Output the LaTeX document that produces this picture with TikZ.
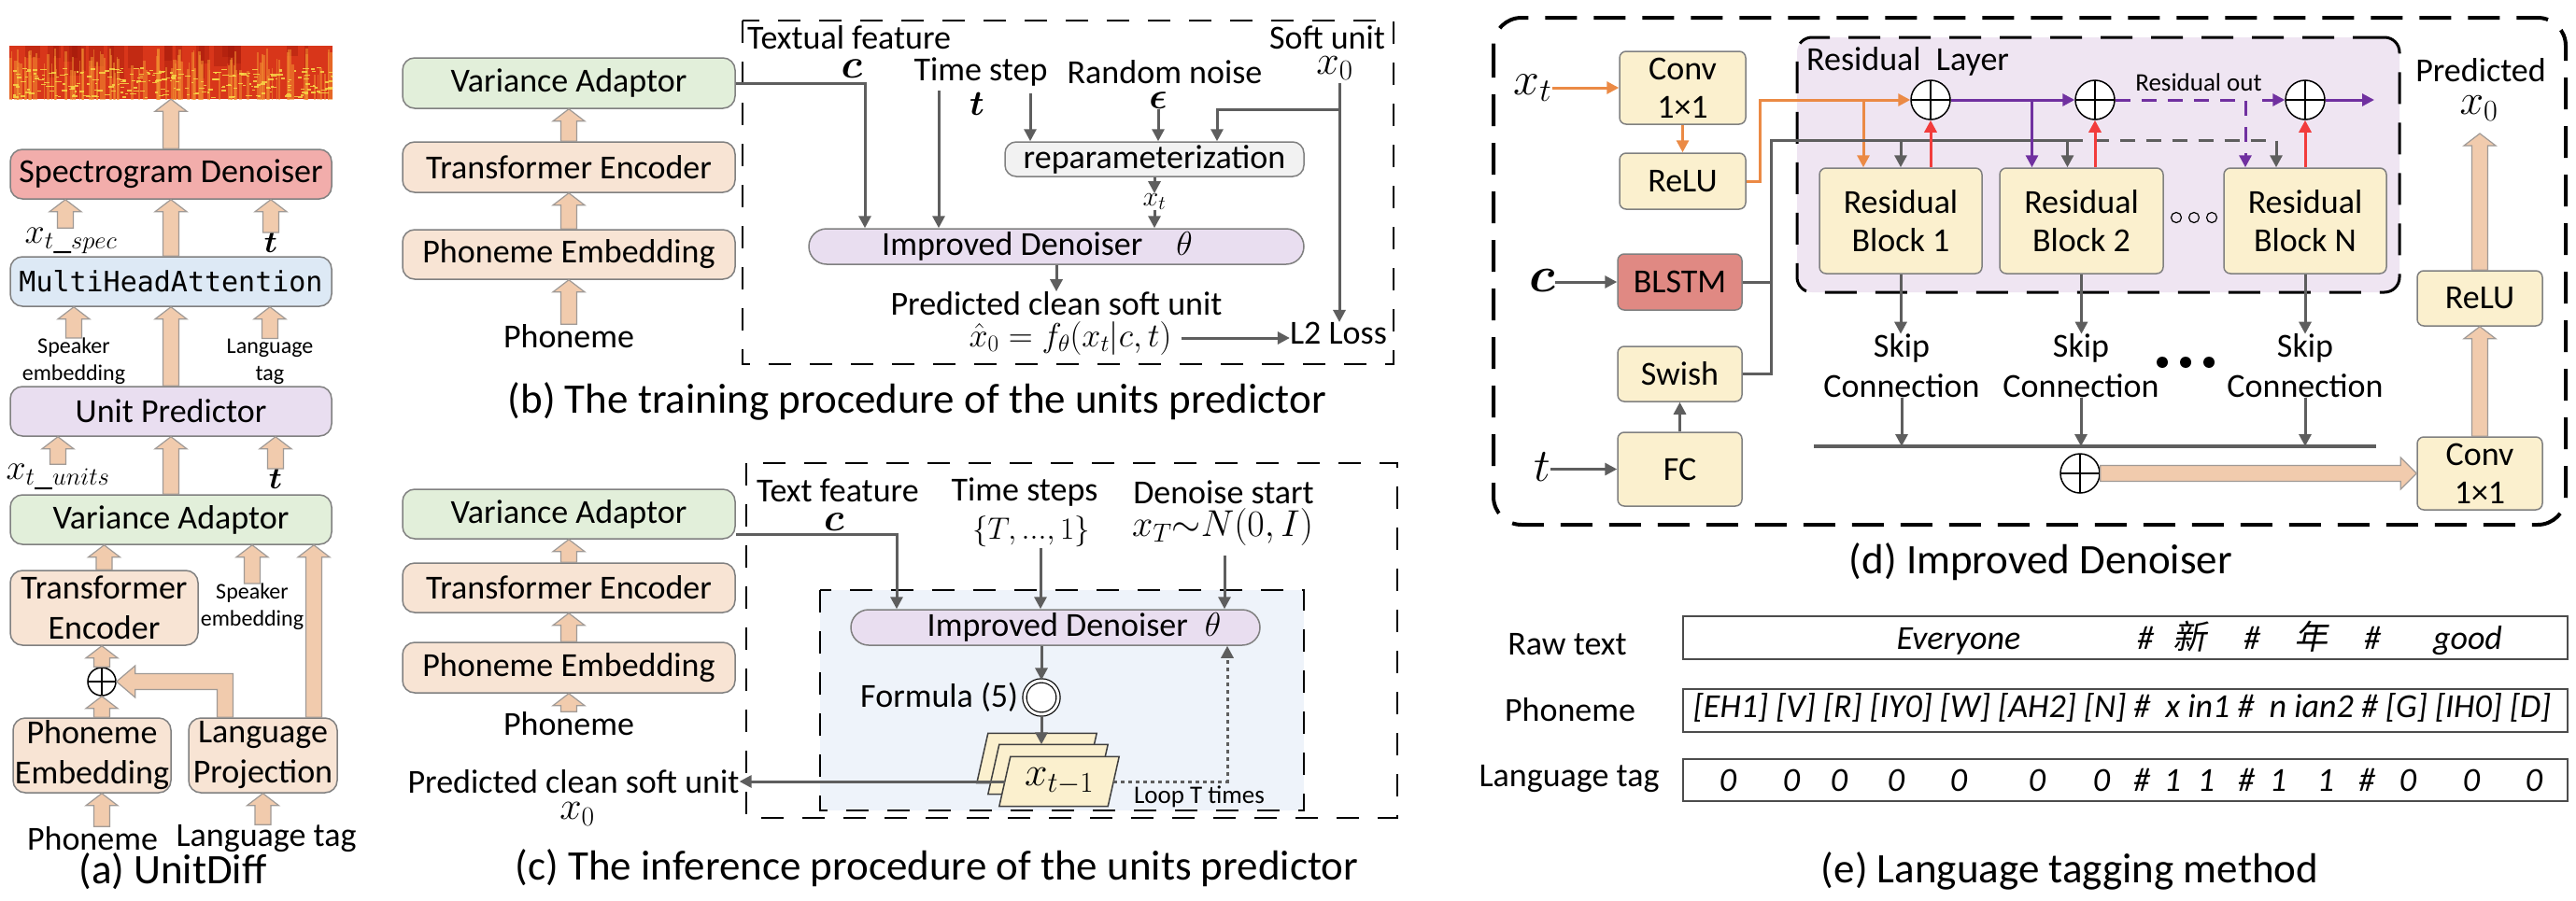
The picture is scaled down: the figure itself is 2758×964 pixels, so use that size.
\RequirePackage{fix-cm}
\documentclass[tikz,border=0pt]{standalone}
\usepackage{fontspec}
\usepackage{bm}
\setmainfont{Carlito}
\newfontfamily\monofont{DejaVu Sans Mono}
\newfontfamily\cjk[FakeSlant=0.2]{Noto Sans CJK SC}
\usetikzlibrary{arrows.meta,calc}
\definecolor{cline}{HTML}{808080}
\definecolor{cgreen}{HTML}{E2EFDA}
\definecolor{cpeach}{HTML}{F8E4D4}
\definecolor{cpink}{HTML}{F2ADAB}
\definecolor{cblue}{HTML}{DDE9F5}
\definecolor{clav}{HTML}{E9DEF0}
\definecolor{cgrey}{HTML}{F2F2F2}
\definecolor{cyel}{HTML}{FBF0CE}
\definecolor{cbl}{HTML}{E08983}
\definecolor{cfat}{HTML}{F1CBAD}
\definecolor{cfatl}{HTML}{A09A96}
\definecolor{cgarr}{HTML}{5E5E5E}
\definecolor{corange}{HTML}{EB8A45}
\definecolor{cpurple}{HTML}{7030A0}
\definecolor{cred}{HTML}{F23C3C}
\definecolor{crl}{HTML}{EFE5F2}
\definecolor{cinner}{HTML}{EEF3FA}
\definecolor{specred}{HTML}{D8361A}
\definecolor{specor}{HTML}{F29030}
\definecolor{specy}{HTML}{F8D848}
\definecolor{specdk}{HTML}{9A1408}
\tikzset{
  box/.style={draw=cline,line width=1.5pt,rounded corners=13pt},
  ybox/.style={box,fill=cyel,rounded corners=7pt,font=\fontsize{36}{41}\selectfont},
  ebox/.style={draw=black!70,line width=2pt},
  msize/.style={font=\fontsize{#1}{#1}\selectfont},
  small/.style={font=\fontsize{24}{29}\selectfont},
  note/.style={font=\fontsize{27}{30}\selectfont},
  captxt/.style={font=\fontsize{45}{50}\selectfont},
  fat/.style={draw=cfatl,fill=cfat,line width=1.2pt},
  fatup/.style={fat,to path={let \p1=(\tikztostart),\p2=(\tikztotarget) in
    (\x1-8.5pt,\y1)--(\x1-8.5pt,\y2-13pt)--(\x1-17pt,\y2-13pt)--(\x1,\y2)
    --(\x1+17pt,\y2-13pt)--(\x1+8.5pt,\y2-13pt)--(\x1+8.5pt,\y1)--cycle}},
  fatright/.style={fat,to path={let \p1=(\tikztostart),\p2=(\tikztotarget) in
    (\x1,\y1+8.5pt)--(\x2-17pt,\y1+8.5pt)--(\x2-17pt,\y1+17pt)--(\x2,\y1)
    --(\x2-17pt,\y1-17pt)--(\x2-17pt,\y1-8.5pt)--(\x1,\y1-8.5pt)--cycle}},
  arr/.style={line width=3pt,-{Triangle[width=13pt,length=13pt]}},
  garrow/.style={arr,draw=cgarr},
  oarrow/.style={arr,draw=corange},
  parrow/.style={arr,draw=cpurple},
  rarrow/.style={arr,draw=cred},
  gline/.style={draw=cgarr,line width=3pt},
  dashpat/.style={dash pattern=on 16pt off 12pt},
  dbox/.style={draw=black,line width=2.2pt,dash pattern=on 24pt off 20pt},
  oplus/.style={circle,draw=black,line width=1.5pt,fill=white,minimum size=42pt,
    path picture={\draw[line width=1.2pt] (path picture bounding box.north)--(path picture bounding box.south)
      (path picture bounding box.west)--(path picture bounding box.east);}},
  dcirc/.style={circle,draw=black,line width=1.2pt,double=white,double distance=3pt,fill=white,minimum size=36pt},
  stackp/.style={minimum width=128pt,minimum height=53pt},
  stackfill/.style={draw=black!75,line width=1.5pt,fill=cyel},
}
\begin{document}
\begin{tikzpicture}[x=1pt,y=-1pt,font=\fontsize{36}{43}\selectfont,
  every node/.style={inner sep=0pt,align=center}]
\useasboundingbox (0,0) rectangle (2758,964);
\fill[white] (0,0) rectangle (2758,964);
% (a)
\begin{scope}
  \clip (10,49) rectangle (356,106);
  \fill[specred] (10,49) rectangle (356,106);
  \pgfmathsetseed{11}
  \foreach \i in {1,...,22}{\pgfmathsetmacro{\sx}{10+346*rnd}
    \fill[specdk,opacity=0.35] (\sx,49) rectangle ++(4+14*rnd,10+40*rnd);}
  \foreach \i in {1,...,110}{\pgfmathsetmacro{\sx}{10+346*rnd}
    \fill[specor,opacity=0.55] (\sx,52+30*rnd) rectangle ++(1+2.5*rnd,60);}
  \foreach \i in {1,...,260}{\pgfmathsetmacro{\sx}{10+346*rnd}\pgfmathsetmacro{\sy}{72+32*rnd}
    \fill[specy,opacity=0.85] (\sx,\sy) rectangle ++(2+5*rnd,1.4);}
\end{scope}
\node[minimum width=346pt,minimum height=57pt] (spec) at (183,77.5) {};
\node[box,fill=cpink,minimum width=344pt,minimum height=53pt] (sd) at (183,186.5) {Spectrogram Denoiser};
\node[box,fill=cblue,minimum width=344pt,minimum height=53pt,font=\fontsize{30}{36}\monofont] (mha) at (183,301.5) {MultiHeadAttention};
\node[box,fill=clav,minimum width=344pt,minimum height=53pt] (up) at (183,440.5) {Unit Predictor};
\node[box,fill=cgreen,minimum width=344pt,minimum height=53pt] (vaa) at (183,556.5) {Variance Adaptor};
\node[box,fill=cpeach,minimum width=201pt,minimum height=80pt] (tea) at (111.5,651) {Transformer\\Encoder};
\node[box,fill=cpeach,minimum width=169pt,minimum height=80pt] (pea) at (98.5,809) {Phoneme\\Embedding};
\node[box,fill=cpeach,minimum width=159pt,minimum height=80pt] (lpa) at (281.5,809) {Language\\Projection};
\node[oplus,minimum size=30pt] (opa) at (109,730) {};
\node[msize=38] (xsp) at (76,258) {$x_{t\_spec}$};
\node[msize=34] (tsp) at (290,260) {$\bm{t}$};
\node[small] (sea) at (79,387) {Speaker\\embedding};
\node[small] (lta) at (289,387) {Language\\tag};
\node[msize=38] (xun) at (62,511) {$x_{t\_units}$};
\node[msize=34] (tun) at (295,513) {$\bm{t}$};
\node[small] (seb) at (270,650) {Speaker\\embedding};
\node (pha) at (99,898) {Phoneme};
\node (lga) at (285,898) {Language tag};
\node[captxt] (capa) at (185,933) {(a) UnitDiff};
\path[fatup] (sd.north) to (spec.south);
\path[fatup] (mha.north) to (sd.south);
\path[fatup] ([xshift=-6pt]xsp.north) to (xsp.north |- sd.south);
\path[fatup] (tsp.north) to (tsp.north |- sd.south);
\path[fatup] (up.north) to (mha.south);
\path[fatup] (sea.north) to (sea.north |- mha.south);
\path[fatup] (lta.north) to (lta.north |- mha.south);
\path[fatup] (vaa.north) to (up.south);
\path[fatup] (xun.north) to (xun.north |- up.south);
\path[fatup] (tun.north) to (tun.north |- up.south);
\path[fatup] (tea.north) to (tea.north |- vaa.south);
\path[fatup] (seb.north) to (seb.north |- vaa.south);
\path[fatup] ([xshift=54.5pt]lpa.north) to (vaa.south);
\path[fat] let \p1=([xshift=-40.5pt]lpa.north),\p2=(opa.east) in
  (\x1-8.5pt,\y1)--(\x1-8.5pt,\y2-8.5pt)--(\x2+20pt,\y2-8.5pt)--(\x2+20pt,\y2-17pt)--(\x2,\y2)
  --(\x2+20pt,\y2+17pt)--(\x2+20pt,\y2+8.5pt)--(\x1+8.5pt,\y2+8.5pt)--(\x1+8.5pt,\y1)--cycle;
\path[fatup] (opa |- pea.north) to (opa.south);
\path[fatup] (opa.north) to (opa |- tea.south);
\path[fatup] (opa |- pha.north) to (opa |- pea.south);
\path[fatup] (lpa |- lga.north) to (lpa.south);
% (b)
\draw[dbox] (795,22) rectangle (1492,390);
\node[box,fill=cgreen,minimum width=356pt,minimum height=54pt] (vab) at (609,89) {Variance Adaptor};
\node[box,fill=cpeach,minimum width=356pt,minimum height=54pt] (teb) at (609,179) {Transformer Encoder};
\node[box,fill=cpeach,minimum width=356pt,minimum height=53pt] (peb) at (609,272.5) {Phoneme Embedding};
\node (phb) at (609,360) {Phoneme};
\path[fatup] (phb.north) to (peb.south);
\path[fatup] (peb.north) to (teb.south);
\path[fatup] (teb.north) to (vab.south);
\node[anchor=west] (tfb) at (800,40) {Textual feature};
\node[msize=44] (cb) at (912,74) {$\bm{c}$};
\node[box,fill=clav,rounded corners=19pt,minimum width=530pt,minimum height=38pt] (idb) at (1131,264) {Improved Denoiser\quad$\theta$\hspace{41pt}};
\node[box,fill=cgrey,rounded corners=12pt,minimum width=320pt,minimum height=37pt] (rpb) at (1236,170.5) {reparameterization};
\node (tsb) at (1050,77) {Time step};
\node[msize=38] (tb) at (1046,111) {$\bm{t}$};
\node (rnb) at (1247,77) {Random noise};
\node[msize=40] (eb) at (1240,108) {$\bm{\epsilon}$};
\node (sub) at (1421,40) {Soft unit};
\node[msize=44] (x0b) at (1429,73) {$x_0$};
\node[msize=30] (xtb) at (1236,216) {$x_t$};
\node (pcb) at (1131,325) {Predicted clean soft unit};
\node[msize=36] (fb) at (1146,362) {$\hat{x}_0=f_\theta(x_t|c,t)$};
\node (l2b) at (1433,357) {L2 Loss};
\node[captxt] (capb) at (982,430) {(b) The training procedure of the units predictor};
\coordinate (tsl) at (1005,97);
\coordinate (tsr) at (1103,100);
\coordinate (sxb) at (1434,89);
\coordinate (sjb) at (1434,117);
\draw[garrow] (vab.east) -| ([xshift=-205pt]idb.north);
\draw[garrow] (tsl) -- (tsl |- idb.north);
\draw[garrow] (tsr) -- (tsr |- rpb.north);
\draw[garrow] (eb.south) -- (eb.south |- rpb.north);
\draw[garrow] (sxb) -- (sxb |- l2b.north);
\draw[garrow] (sjb) -| ([xshift=67pt]rpb.north);
\draw[garrow] (rpb.south) -- (xtb.north);
\draw[garrow] (xtb.south) -- (xtb.south |- idb.north);
\draw[garrow] (idb.south -| pcb) -- (pcb.north);
\draw[garrow] ([xshift=10pt]fb.east) -- (l2b.west |- fb.east);
% (c)
\draw[dbox] (799,496) rectangle (1496,876);
\draw[dbox,fill=cinner] (878,632) rectangle (1396,868);
\node[box,fill=cgreen,minimum width=356pt,minimum height=53pt] (vac) at (609,550.5) {Variance Adaptor};
\node[box,fill=cpeach,minimum width=356pt,minimum height=53pt] (tec) at (609,629.5) {Transformer Encoder};
\node[box,fill=cpeach,minimum width=356pt,minimum height=54pt] (pec) at (609,715) {Phoneme Embedding};
\node (phc) at (609,775) {Phoneme};
\path[fatup] (phc.north) to (pec.south);
\path[fatup] (pec.north) to (tec.south);
\path[fatup] (tec.north) to (vac.south);
\node (pcc) at (614,837) {Predicted clean soft unit};
\node[msize=42] (x0c) at (618,872) {$x_0$};
\node[anchor=west] (tfc) at (810,525) {Text feature};
\node[msize=42] (cc) at (893,559) {$\bm{c}$};
\node[box,fill=clav,rounded corners=19pt,minimum width=438pt,minimum height=38pt] (idc) at (1130,672) {\hspace{40pt}Improved Denoiser\enspace$\theta$};
\node (tsc) at (1097,527) {Time steps};
\node[msize=33] (tsetc) at (1104,569) {$\{T,...,1\}$};
\node (dsc) at (1310,527) {Denoise start};
\node[msize=40] (xtc) at (1309,564) {$x_T{\sim}N(0,I)$};
\node[dcirc] (f5) at (1115,747) {};
\node[anchor=east] (fm) at ([xshift=-6pt]f5.west) {Formula (5)};
\foreach \n/\x/\y in {st3/1110/812,st2/1122/824,st1/1134/837}{
  \node[stackp] (\n) at (\x,\y) {};
  \draw[stackfill] ([xshift=12pt]\n.north west) -- (\n.north east) -- ([xshift=-12pt]\n.south east) -- (\n.south west) -- cycle;}
\node[msize=44] (xtm) at (st1) {$x_{t-1}$};
\node[note] (loop) at (1284,853) {Loop T times};
\node[captxt] (capc) at (1003,930) {(c) The inference procedure of the units predictor};
\coordinate (tsc0) at (1114,587);
\coordinate (dsc0) at (1311,595);
\draw[garrow] ([yshift=-22pt]vac.east) -| ([xshift=-170pt]idc.north);
\draw[garrow] (tsc0) -- (tsc0 |- idc.north);
\draw[garrow] (dsc0) -- (dsc0 |- idc.north);
\draw[garrow] (idc.south -| f5) -- (f5.north);
\draw[garrow] (f5.south) -- (f5.south |- st2.north);
\draw[garrow] ([xshift=6pt]st1.west) -- (pcc.east);
\draw[garrow,dash pattern=on 4pt off 4pt] ([xshift=-6pt]st1.east) -| ([xshift=184pt]idc.south);
% (d)
\draw[draw=black,line width=4pt,dash pattern=on 34pt off 18pt,rounded corners=30pt] (1599,19) rectangle (2747,562);
\node[draw=black,fill=crl,line width=3pt,dash pattern=on 34pt off 20pt,rounded corners=16pt,
  minimum width=645pt,minimum height=273pt] (rl) at (2246.5,176.5) {};
\node[anchor=west] (rlt) at (1934,66) {Residual\ \ Layer};
\node[ybox,minimum width=135pt,minimum height=78pt] (cv1) at (1801.5,94) {Conv\\1×1};
\node[ybox,minimum width=135pt,minimum height=60pt] (rl1) at (1801.5,194) {ReLU};
\node[ybox,fill=cbl,minimum width=133pt,minimum height=60pt] (bl) at (1798.5,302) {BLSTM};
\node[ybox,minimum width=133pt,minimum height=59pt] (sw) at (1798.5,400.5) {Swish};
\node[ybox,minimum width=133pt,minimum height=79pt] (fc) at (1798.5,502.5) {FC};
\node[ybox,minimum width=174pt,minimum height=113pt] (rb1) at (2035,236.5) {Residual\\Block 1};
\node[ybox,minimum width=175pt,minimum height=113pt] (rb2) at (2228.5,236.5) {Residual\\Block 2};
\node[ybox,minimum width=174pt,minimum height=113pt] (rbn) at (2468,236.5) {Residual\\Block N};
\node[oplus] (op1) at (2067,107) {};
\node[oplus] (op2) at (2243,107) {};
\node[oplus] (op3) at (2468,107) {};
\node[oplus] (op4) at (2227,507) {};
\node[ybox,minimum width=134pt,minimum height=78pt] (cv2) at (2655,507) {Conv\\1×1};
\node[ybox,minimum width=134pt,minimum height=59pt] (rl2) at (2655,319.5) {ReLU};
\node (prd) at (2656,75) {Predicted};
\node[msize=46] (x0d) at (2654,116) {$x_0$};
\node[msize=50] (xtd) at (1641,94) {$x_t$};
\node[msize=54] (cd) at (1651,300) {$\bm{c}$};
\node[msize=50] (td) at (1651,500) {$t$};
\node[note] (rout) at (2354,88) {Residual out};
\node (sk1) at (2036,392) {Skip\\Connection};
\node (sk2) at (2228,392) {Skip\\Connection};
\node (skn) at (2468,392) {Skip\\Connection};
\node[captxt] (capd) at (2185,602) {(d) Improved Denoiser};
\foreach \k in {-1,0,1}{\draw[line width=1.2pt] (2349+19*\k,233) circle (5.5pt);
  \fill (2340+25*\k,388) circle (6pt);}
\draw[oarrow] (xtd.east |- cv1.west) -- (cv1.west);
\draw[oarrow] (cv1.south) -- (rl1.north);
\draw[oarrow] (rl1.east) -- ++(15,0) |- (op1.west);
\coordinate (oj) at (1995,107);
\draw[oarrow] (oj) -- (oj |- rb1.north);
\draw[garrow] (cd.east |- bl.west) -- (bl.west);
\draw[garrow] (td.east |- fc.west) -- (fc.west);
\draw[garrow] (fc.north) -- (sw.south);
\coordinate (gj) at (1896,150);
\draw[gline] (sw.east) -| (gj) -- ([xshift=-15pt]rb2.north |- gj);
\draw[gline] (bl.east) -- (bl.east -| gj);
\draw[garrow] (rb1.north |- gj) -- (rb1.north);
\draw[garrow] ([xshift=-15pt]rb2.north |- gj) -- ([xshift=-15pt]rb2.north);
\draw[garrow,dashpat] ([xshift=-15pt]rb2.north |- gj) -| ([xshift=-31pt]rbn.north);
\draw[rarrow] (op1 |- rb1.north) -- (op1.south);
\draw[rarrow] (op2 |- rb2.north) -- (op2.south);
\draw[rarrow] (op3 |- rbn.north) -- (op3.south);
\draw[parrow] (op1.east) -- (op2.west);
\draw[parrow] ([xshift=-53pt]rb2.north |- op1) -- ([xshift=-53pt]rb2.north);
\draw[parrow,dashpat] (op2.east) -| ([xshift=-64pt]rbn.north);
\draw[parrow,dashpat] ([xshift=-24pt]op3.west) -- (op3.west);
\coordinate (resend) at (2542,107);
\draw[parrow] (op3.east) -- (resend);
\draw[garrow] (rb1.south) -- (rb1.south |- sk1.north);
\draw[garrow] (rb2.south) -- (rb2.south |- sk2.north);
\draw[garrow] (rbn.south) -- (rbn.south |- skn.north);
\coordinate (barl) at (1942,478);
\coordinate (barr) at (2544,478);
\draw[draw=cgarr,line width=4.5pt] (barl) -- (barr);
\draw[garrow] (sk1.south) -- (sk1.south |- barl);
\draw[garrow] (sk2.south) -- (sk2.south |- barl);
\draw[garrow] (skn.south) -- (skn.south |- barl);
\path[fatright] (op4.east) to (cv2.west);
\path[fatup] (cv2.north) to (rl2.south);
\coordinate (x0tip) at (2655,143);
\path[fatup] (rl2.north) to (x0tip);
% (e)
\node[anchor=base] (rawl) at (1678,701) {Raw text};
\node[anchor=base] (phl) at (1681,772) {Phoneme};
\node[anchor=base] (tagl) at (1680,842) {Language tag};
\node[ebox,minimum width=947pt,minimum height=46pt] (rawbox) at (2275.5,683) {};
\node[ebox,minimum width=947pt,minimum height=46pt] (phbox) at (2275.5,761) {};
\node[ebox,minimum width=947pt,minimum height=45pt] (tagbox) at (2275.5,835.5) {};
\foreach \x/\s [count=\i] in {2097/Everyone,2297/\#,2411/\#,2540/\#,2642/good}
  \node[anchor=base] (rw\i) at (\x,695) {\itshape\s};
\node[anchor=base] (cn1) at (2344,695) {\cjk 新};
\node[anchor=base] (cn2) at (2474,695) {\cjk 年};
\node[anchor=base] (phs) at (2272,768) {\itshape [EH1] [V] [R] [IY0] [W] [AH2] [N] \#\ \ x in1 \#\ \ n ian2 \# [G] [IH0] [D]};
\foreach \x/\s [count=\i] in {1850/0,1918/0,1969/0,2030/0,2097/0,2181/0,2250/0,2293/\#,2326/1,2362/1,
  2405/\#,2439/1,2490/1,2534/\#,2578/0,2646/0,2713/0}
  \node[anchor=base] (tag\i) at (\x,847) {\itshape\s};
\node[captxt] (cape) at (2216,933) {(e) Language tagging method};
\end{tikzpicture}
\end{document}
